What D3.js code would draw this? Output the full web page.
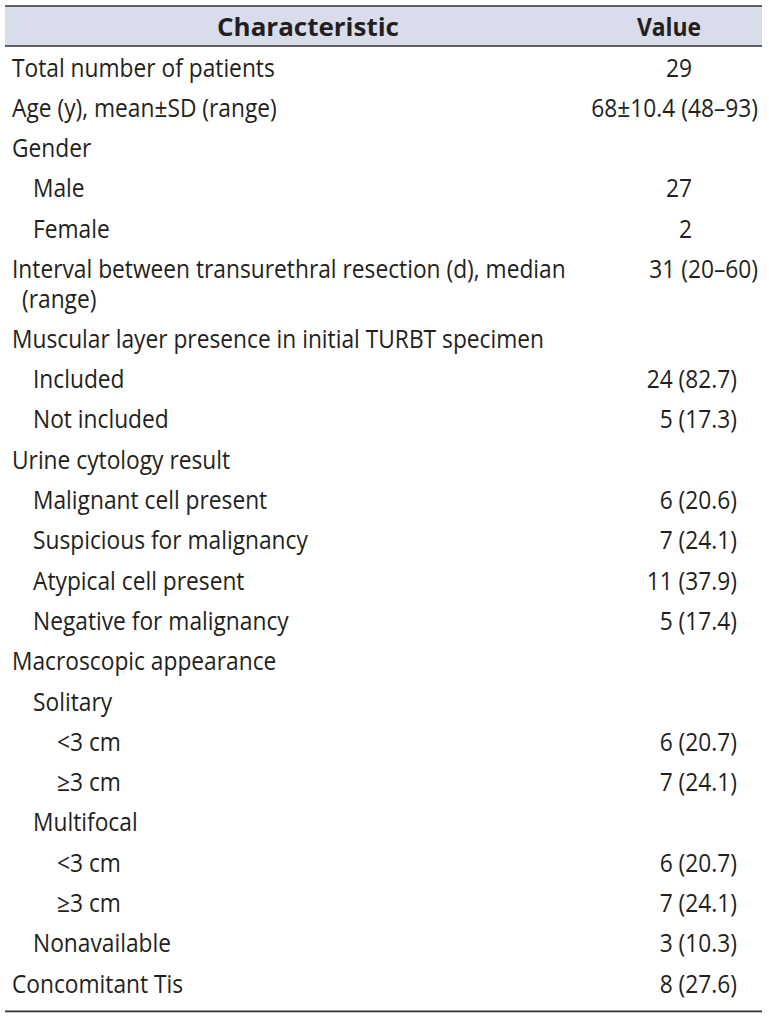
<!DOCTYPE html>
<html><head><meta charset="utf-8">
<script src="https://cdn.jsdelivr.net/npm/d3@7"></script>
<style>html,body{margin:0;padding:0;background:#fff}</style>
</head><body>
<svg id="c" width="769" height="1019"></svg>
<script>
const headers = ["Characteristic", "Value"];
const labels = [
  "Total number of patients",
  "Age (y), mean±SD (range)",
  "Gender",
  "Male",
  "Female",
  "Interval between transurethral resection (d), median|(range)",
  "Muscular layer presence in initial TURBT specimen",
  "Included",
  "Not included",
  "Urine cytology result",
  "Malignant cell present",
  "Suspicious for malignancy",
  "Atypical cell present",
  "Negative for malignancy",
  "Macroscopic appearance",
  "Solitary",
  "<3 cm",
  "≥3 cm",
  "Multifocal",
  "<3 cm",
  "≥3 cm",
  "Nonavailable",
  "Concomitant Tis"
];
const levels = [0,0,0,1,1,0,0,1,1,0,1,1,1,1,0,1,2,2,1,2,2,1,0];
const values = ["29","68±10.4 (48–93)","","27","2","31 (20–60)","","24 (82.7)","5 (17.3)","",
  "6 (20.6)","7 (24.1)","11 (37.9)","5 (17.4)","","","6 (20.7)","7 (24.1)","","6 (20.7)","7 (24.1)","3 (10.3)","8 (27.6)"];

(function(){
const svg = d3.select("#c");
const FONT = "'Open Sans','Noto Sans',sans-serif";
const FS = 25;
const left = 5, right = 762, tableTop = 6, headerH = 40;
const rowH = 40.3, wrapH = 29.5, baseOff = 27.5;

function measure(str, weight) {
  const t = svg.append("text").attr("font-family", FONT).attr("font-size", FS).attr("font-weight", weight).text(str);
  const w = t.node().getComputedTextLength();
  t.remove();
  return w;
}
const sx = 263 / measure("Total number of patients", "normal");
const sxb = 182 / measure("Characteristic", "bold");

function put(parent, str, x, y, anchor, weight, s) {
  return parent.append("text")
    .attr("transform", `translate(${x},${y}) scale(${s},1)`)
    .attr("text-anchor", anchor)
    .attr("font-weight", weight)
    .text(str);
}

svg.append("rect").attr("x", left).attr("y", tableTop).attr("width", right-left).attr("height", headerH).attr("fill", "#d9dcea");
svg.append("line").attr("x1", left).attr("x2", right).attr("y1", tableTop).attr("y2", tableTop).attr("stroke", "#333").attr("stroke-width", 1.6);
svg.append("line").attr("x1", left).attr("x2", right).attr("y1", tableTop+headerH).attr("y2", tableTop+headerH).attr("stroke", "#333").attr("stroke-width", 1.6);

const hg = svg.append("g").attr("font-family", FONT).attr("font-size", FS).attr("fill", "#231f20");
put(hg, headers[0], 308, 36, "middle", "bold", sxb);
put(hg, headers[1], 669, 36, "middle", "bold", sxb * 0.88);

const indent = d3.scaleOrdinal().domain([0,1,2]).range([12, 33, 57]);
let y = tableTop + headerH + 3;
const rows = labels.map((l, i) => {
  const parts = l.split("|");
  const r = {parts, level: levels[i], value: values[i], y0: y};
  y += rowH + (parts.length - 1) * wrapH;
  return r;
});
const bottom = y + 6;

const g = svg.append("g").attr("font-family", FONT).attr("font-size", FS).attr("fill", "#231f20");
rows.forEach(r => {
  r.parts.forEach((p, k) => {
    put(g, p, k === 0 ? indent(r.level) : 22, r.y0 + baseOff + k*wrapH, "start", "normal", sx);
  });
  if (r.value) {
    let x = 737;
    if (r.value.includes("–")) x = 758;
    else if (!r.value.includes("(")) x = 692;
    put(g, r.value, x, r.y0 + baseOff, "end", "normal", sx);
  }
});
svg.append("line").attr("x1", left).attr("x2", right).attr("y1", bottom).attr("y2", bottom).attr("stroke", "#333").attr("stroke-width", 1.6);
})();
</script>
</body></html>
